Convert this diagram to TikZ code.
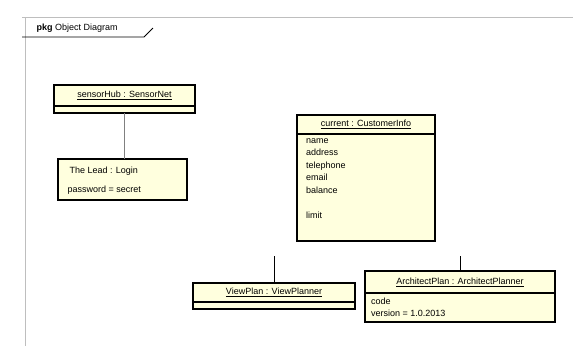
\documentclass[tikz,border=0pt]{standalone}
\usepackage{fontspec}
\setmainfont{Liberation Sans}
\usetikzlibrary{positioning}
\definecolor{objfill}{RGB}{255,255,222}
\definecolor{framegray}{RGB}{190,190,190}
\tikzset{
  objbox/.style={draw=black,line width=1.4pt,fill=objfill,
    anchor=north west,inner sep=0pt,outer sep=0pt},
  objtext/.style={font=\fontsize{9}{10}\selectfont},
  attrtext/.style={font=\fontsize{9}{12.6}\selectfont,
    align=left,anchor=north west,inner sep=0pt},
  link/.style={draw=black,line width=0.9pt},
}
\begin{document}
\begin{tikzpicture}[x=1pt,y=-1pt]
      \useasboundingbox[fill=white] (0,0) rectangle (573,346);
      % frame
      \draw[framegray,line width=0.8pt] (22,17) -- (573,17);
      \draw[framegray,line width=0.8pt] (25,17) -- (25,346);
      \node[objtext,anchor=west] (frameLabel) at (33,28)
        {\textbf{pkg} Object Diagram};
      \draw[line width=0.9pt] (22,37) -- (144,37) -- (153,28);
      % left objects
      \node[objbox,objtext,minimum width=141pt,minimum height=21pt]
        (hubHead) at (54,85) {\underline{sensorHub : SensorNet}};
      \node[objbox,minimum width=141pt,minimum height=7pt,
        below=0pt of hubHead] (hubBody) {};
      \node[objbox,minimum width=129pt,minimum height=41pt]
        (loginBox) at (58,159) {};
      \node[objtext,anchor=west] (loginName) at (66,171)
        {The Lead : Login};
      \node[objtext,anchor=west] (loginAttr) at (64,190)
        {password = secret};
      \draw[link,draw=gray] (hubBody.south) -- (hubBody.south |- loginBox.north);
      % customer
      \node[objbox,objtext,minimum width=138pt,minimum height=19pt]
        (custHead) at (297,115) {\underline{current : CustomerInfo}};
      \node[objbox,minimum width=138pt,minimum height=107pt,
        below=0pt of custHead] (custBody) {};
      \node[attrtext] (custAttr) at ([xshift=9pt,yshift=-4pt]custBody.north west)
        {name\\address\\telephone\\email\\balance\\ \\limit};
      % lower objects
      \node[objbox,objtext,minimum width=162pt,minimum height=19pt]
        (planHead) at (193,283) {\underline{ViewPlan : ViewPlanner}};
      \node[objbox,minimum width=162pt,minimum height=7pt,
        below=0pt of planHead] (planBody) {};
      \node[objbox,objtext,minimum width=190pt,minimum height=22pt]
        (archHead) at (365,271) {\underline{ArchitectPlan : ArchitectPlanner}};
      \node[objbox,minimum width=190pt,minimum height=29pt,
        below=0pt of archHead] (archBody) {};
      \node[attrtext,font=\fontsize{9}{11.5}\selectfont] (archAttr)
        at ([xshift=6pt,yshift=-5pt]archBody.north west)
        {code\\version = 1.0.2013};
      \coordinate (planTop) at (planHead.north |- 0,256);
      \coordinate (archTop) at (archHead.north |- 0,256);
      \draw[link] (planTop) -- (planHead.north);
      \draw[link] (archTop) -- (archHead.north);
    \end{tikzpicture}
\end{document}
